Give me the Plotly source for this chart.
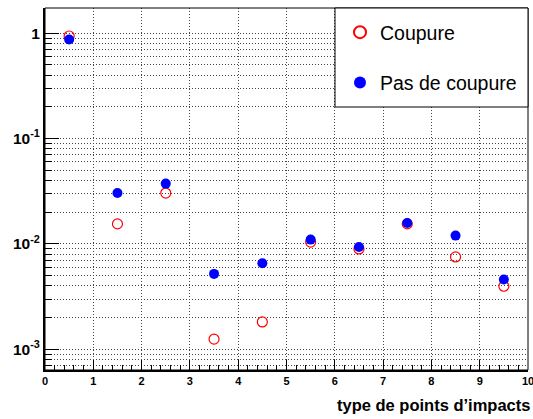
import plotly.graph_objects as go

x_vals = [0.5, 1.5, 2.5, 3.5, 4.5, 5.5, 6.5, 7.5, 8.5, 9.5]
coupure = [0.94, 0.0155, 0.0304, 0.00125, 0.00182, 0.0104, 0.00897, 0.0155, 0.00753, 0.00397]
pas_de_coupure = [0.87, 0.0304, 0.0374, 0.0052, 0.00656, 0.0110, 0.00937, 0.0158, 0.0120, 0.0046]

x_ticks = list(range(0, 11))
y_ticks = [1e-3, 1e-2, 1e-1, 1]
y_ticktext = ["10<sup>-3</sup>", "10<sup>-2</sup>", "10<sup>-1</sup>", "1"]
y_minor = [k * 10.0**n for n in range(-4, 1) for k in range(2, 10)]

FONT = "Liberation Sans, Arial, sans-serif"
GRID = "#444"
DASH = "1px,2px"

fig = go.Figure()
fig.add_trace(go.Scatter(
    x=x_vals, y=coupure, mode="markers", name="Coupure",
    legendgroup="a",
    marker=dict(symbol="circle-open", size=10, color="#ff0000", line=dict(width=1.2, color="#ff0000")),
))
fig.add_trace(go.Scatter(
    x=x_vals, y=pas_de_coupure, mode="markers", name="Pas de coupure",
    legendgroup="b",
    marker=dict(symbol="circle", size=10, color="#0000ff", line=dict(width=0)),
))

fig.update_layout(
    width=533, height=419,
    margin=dict(l=45, r=5, t=8, b=49, autoexpand=False),
    paper_bgcolor="white", plot_bgcolor="white",
    font=dict(family=FONT, color="black"),
    showlegend=True,
    legend=dict(
        x=(340 - 45) / 483, xanchor="left",
        y=1 - (13 - 8) / 362, yanchor="top",
        bgcolor="rgba(0,0,0,0)", borderwidth=0,
        font=dict(size=19.5, family=FONT, color="black"),
        traceorder="grouped", tracegroupgap=22,
        itemsizing="constant",
    ),
    xaxis=dict(
        range=[0, 10], tickmode="array", tickvals=x_ticks,
        ticktext=[str(v) for v in x_ticks],
        ticks="inside", ticklen=10, tickwidth=1, tickcolor="black",
        showline=True, linewidth=2, linecolor="black", mirror=False,
        showgrid=True, gridcolor=GRID, griddash=DASH, gridwidth=1,
        zeroline=False, automargin=False, ticklabeloverflow="allow",
        tickfont=dict(size=11, family=FONT, weight="bold"),
        minor=dict(dtick=0.2, tick0=0, ticks="inside", ticklen=5, tickwidth=1,
                   tickcolor="black", showgrid=False),
    ),
    yaxis=dict(
        type="log", range=[-3.196, 0.239],
        tickmode="array", tickvals=y_ticks, ticktext=y_ticktext,
        ticks="inside", ticklen=14, tickwidth=1, tickcolor="black",
        showline=True, linewidth=2, linecolor="black", mirror=False,
        showgrid=True, gridcolor=GRID, griddash=DASH, gridwidth=1,
        zeroline=False, automargin=False, ticklabeloverflow="allow",
        tickfont=dict(size=15.5, family=FONT, weight="bold"),
        minor=dict(tickmode="array", tickvals=y_minor, ticks="inside", ticklen=7,
                   tickwidth=1, tickcolor="black", showgrid=True,
                   gridcolor=GRID, griddash=DASH, gridwidth=1),
    ),
    shapes=[
        dict(type="rect", xref="paper", yref="paper", x0=0, x1=1, y0=0, y1=1,
             line=dict(color="black", width=1), fillcolor="rgba(0,0,0,0)", layer="above"),
        dict(type="rect", xref="paper", yref="paper",
             x0=(335 - 45) / 483, x1=1, y0=1 - (107 - 8) / 362, y1=1,
             line=dict(color="black", width=1), fillcolor="white", layer="above"),
    ],
    annotations=[
        dict(text="type de points d’impacts", xref="paper", yref="paper",
             x=1, y=-(405 - 370) / 362, xanchor="right", yanchor="middle", xshift=4,
             showarrow=False, font=dict(size=16.5, family=FONT, weight="bold", color="black")),
    ],
)

fig.write_html("out.html", config={"displayModeBar": False},
               post_script="document.body.style.margin='0';document.body.style.padding='0';")
